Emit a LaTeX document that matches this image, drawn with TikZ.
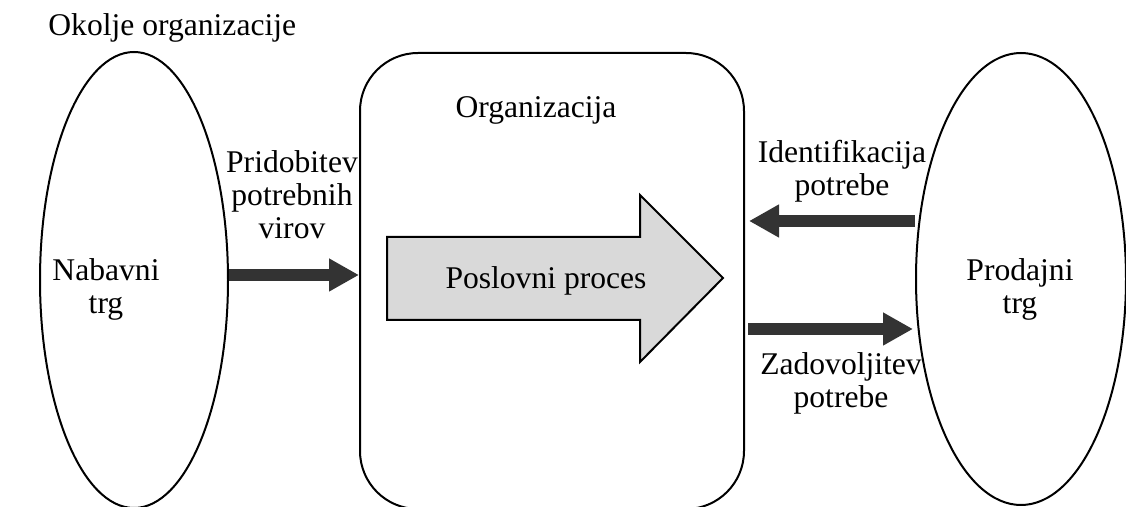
\documentclass[tikz,border=0pt]{standalone}
\usepackage{fontspec}
\setmainfont{Liberation Serif}
\usetikzlibrary{shapes.geometric,arrows.meta}
\definecolor{flowdark}{HTML}{333333}
\definecolor{procfill}{HTML}{D9D9D9}
\tikzset{
  market/.style={ellipse, draw=black, line width=1pt, inner sep=0pt},
  orgbox/.style={rectangle, draw=black, line width=1pt, rounded corners=29pt, inner sep=0pt},
  fat/.style={draw=flowdark, line width=6pt, line cap=butt,
    -{Triangle[length=15pt,width=15.5pt]}},
  lbl/.style={inner sep=0pt, align=center, anchor=base, font=\fontsize{15.8}{16.5}\selectfont},
}
\begin{document}
\begin{tikzpicture}[x=0.5pt, y=-0.5pt]
  \useasboundingbox (0,0) rectangle (1126,507);

  % environment, markets and the organisation
  \node[market, minimum width=94pt, minimum height=228pt] (nab) at (134,280) {};
  \node[market, minimum width=105pt, minimum height=226pt] (prod) at (1021,279) {};
  \node[orgbox, minimum width=192pt, minimum height=228pt] (org) at (552,281) {};

  % business process arrow
  \draw[black, line width=1pt, fill=procfill, line join=miter]
    (387,237) -- (640,237) -- (640,195) -- (723,278) -- (640,362) -- (640,320) -- (387,320) -- cycle;
  \node[lbl] (proc) at (546,289) {Poslovni proces};

  % flows between markets and the organisation
  \draw[fat] ([yshift=2.5pt]nab.east) -- ([yshift=3pt]org.west);
  \draw[fat] ([yshift=29pt]prod.west) -- ([xshift=2pt,yshift=30pt]org.east);
  \draw[fat] ([xshift=1.5pt,yshift=-24pt]org.east) -- ([xshift=-1pt,yshift=-25pt]prod.west);

  % labels
  \node[lbl, anchor=base west] (env) at (48,36) {Okolje organizacije};
  \node[lbl] (orgl) at (536,118) {Organizacija};
  \node[lbl] (src) at (292,239) {Pridobitev\\potrebnih\\virov};
  \node[lbl] (nabl) at (106,314) {Nabavni\\trg};
  \node[lbl] (need) at (842,196) {Identifikacija\\potrebe};
  \node[lbl] (sat) at (841,408) {Zadovoljitev\\potrebe};
  \node[lbl] (prodl) at (1020,314) {Prodajni\\trg};
\end{tikzpicture}
\end{document}
